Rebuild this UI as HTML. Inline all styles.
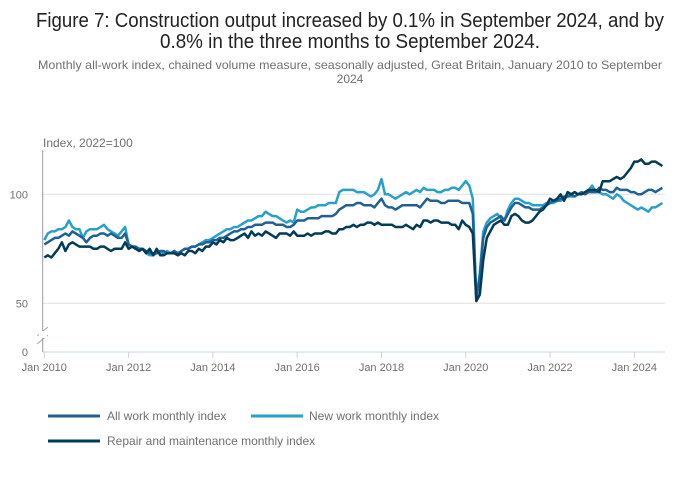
<!DOCTYPE html>
<html><head><meta charset="utf-8"><style>
body{margin:0;background:#fff;}
svg{display:block;font-family:"Liberation Sans",sans-serif;}
</style></head><body>
<svg id="chart" width="700" height="502" viewBox="0 0 700 502">
<text x="350" y="27" text-anchor="middle" font-size="20" fill="#222" textLength="628" lengthAdjust="spacingAndGlyphs">Figure 7: Construction output increased by 0.1% in September 2024, and by</text>
<text x="350" y="48" text-anchor="middle" font-size="20" fill="#222" textLength="380" lengthAdjust="spacingAndGlyphs">0.8% in the three months to September 2024.</text>
<text x="350" y="69" text-anchor="middle" font-size="12" fill="#707070" textLength="624" lengthAdjust="spacingAndGlyphs">Monthly all-work index, chained volume measure, seasonally adjusted, Great Britain, January 2010 to September</text>
<text x="350" y="83" text-anchor="middle" font-size="12" fill="#707070">2024</text>
<text x="43" y="147" font-size="12" fill="#707070">Index, 2022=100</text>
<g id="grid"></g><g id="axes"></g><g id="series"></g>
<g>
<line x1="48" y1="416" x2="100" y2="416" stroke="#206095" stroke-width="3"/>
<text x="107" y="420" font-size="12" fill="#707070">All work monthly index</text>
<line x1="251" y1="416" x2="303" y2="416" stroke="#27a0cc" stroke-width="3"/>
<text x="309" y="420" font-size="12" fill="#707070">New work monthly index</text>
<line x1="48" y1="441" x2="100" y2="441" stroke="#003c57" stroke-width="3"/>
<text x="107" y="445" font-size="12" fill="#707070">Repair and maintenance monthly index</text>
</g>
</svg>
<script>
const yTicks=[50,100];
const xTickLabels=["Jan 2010","Jan 2012","Jan 2014","Jan 2016","Jan 2018","Jan 2020","Jan 2022","Jan 2024"];
const xTickMonths=[0,24,48,72,96,120,144,168];
const allWork=[77,78,79,80,80,81,82,81,83,82,81,80,
78,80,81,81,82,82,81,82,81,80,80,82,
77,76,76,75,75,74,73,73,73,74,74,73,
73,74,73,74,75,75,76,76,77,77,78,78,
79,79,80,80,81,82,83,83,84,84,85,85,
86,86,86,87,87,87,86,86,86,85,85,86,
88,88,88,89,89,89,89,90,90,90,90,91,
93,94,95,95,95,96,96,95,95,95,94,96,
98,95,94,94,93,94,95,95,95,95,95,94,
96,98,97,97,97,96,96,97,97,97,97,96,
96,96,91,52,62,80,85,87,88,89,90,88,
91,94,96,96,95,94,94,93,93,93,94,95,
96,97,97,98,99,99,100,99,100,101,100,101,
101,101,103,102,102,101,101,103,102,102,102,101,
101,100,100,101,102,102,101,102,103];
const newWork=[79,82,83,83,84,84,85,88,85,84,84,80,
83,84,84,84,85,86,84,83,82,81,83,85,
77,76,76,74,75,73,72,72,73,73,73,74,
73,74,72,74,75,75,76,76,77,78,79,79,
80,81,82,83,84,84,85,85,86,87,88,88,
89,90,90,92,91,90,90,89,88,87,88,87,
93,92,92,93,94,94,95,95,95,96,96,96,
101,102,102,102,102,101,101,101,100,99,100,102,
107,100,100,99,98,99,100,101,100,101,102,101,
103,102,102,102,101,101,102,102,103,103,102,104,
106,104,98,52,64,83,87,89,90,91,89,88,
93,96,98,98,97,96,96,95,95,95,95,96,
96,96,97,97,98,99,99,99,100,100,101,102,
104,101,101,100,100,99,98,100,99,97,96,95,
94,93,94,93,92,94,94,95,96];
const repair=[71,72,71,73,75,78,74,77,78,77,76,76,
76,76,75,75,76,76,75,74,75,75,75,78,
75,76,75,74,75,73,75,72,75,72,72,73,
73,73,72,73,72,74,74,73,75,74,76,76,
78,77,79,78,80,79,79,80,81,82,80,83,
81,82,81,83,82,81,80,82,82,82,81,83,
81,81,81,82,81,82,82,82,83,83,82,82,
84,84,85,85,86,85,86,86,87,87,86,87,
86,86,86,86,85,85,85,86,85,84,86,85,
88,88,87,88,88,87,87,87,86,86,84,88,
86,85,82,51,54,70,80,83,86,87,88,86,
86,90,91,90,88,87,87,88,90,92,93,95,
98,97,98,100,97,101,100,101,100,100,101,102,
102,102,101,106,106,106,107,108,107,108,110,112,
115,115,116,114,114,115,115,114,113];
const NS='http://www.w3.org/2000/svg';
function xs(m){return 44.3+m*3.512;}
function ys(v){return 303.3-(v-50)*2.18;}
const grid=document.getElementById('grid'),axes=document.getElementById('axes'),ser=document.getElementById('series');
function mk(tag,attrs,parent){const e=document.createElementNS(NS,tag);for(const k in attrs)e.setAttribute(k,attrs[k]);parent.appendChild(e);return e;}
yTicks.forEach(v=>{
 const l=mk('line',{x1:43,x2:665,y1:ys(v),y2:ys(v),stroke:'#e0e0e0','stroke-width':1},grid);
 
 
 const t=mk('text',{x:28,y:ys(v)+4,'font-size':11,fill:'#707070','text-anchor':'end'},axes);
 t.textContent=v;
 
 
});
const z=mk('text',{x:28,y:356,'font-size':11,fill:'#707070','text-anchor':'end'},axes);
z.textContent='0';


const ya=mk('line',{x1:42.7,x2:42.7,y1:150,y2:352,stroke:'#999','stroke-width':1},axes);


const brk=mk('path',{d:'M37,336 L48,327 M37,344 L48,335',stroke:'#aaa','stroke-width':1,fill:'none'},axes);


mk('rect',{x:39,y:331,width:8,height:7,fill:'#fff'},axes);
const xa=mk('line',{x1:43,x2:665,y1:352,y2:352,stroke:'#c8d3e6','stroke-width':1},axes);


xTickLabels.forEach((lab,i)=>{
 const x=xs(xTickMonths[i]);
 const tk=mk('line',{x1:x,x2:x,y1:352,y2:358,stroke:'#c8d3e6'},axes);
 
 
 const t=mk('text',{x:x,y:371,'font-size':11,fill:'#707070','text-anchor':'middle'},axes);
 t.textContent=lab;
 
 
});
function line(data,color,name){
 const p=mk('path',{d:data.map((v,i)=>(i?'L':'M')+xs(i).toFixed(1)+','+ys(v).toFixed(1)).join(''),fill:'none',stroke:color,'stroke-width':2.5,'stroke-linejoin':'round'},ser);
 
 
}
line(newWork,'#27a0cc','new-work-line');
line(allWork,'#206095','all-work-line');
line(repair,'#003c57','repair-maintenance-line');
</script>
</body></html>
